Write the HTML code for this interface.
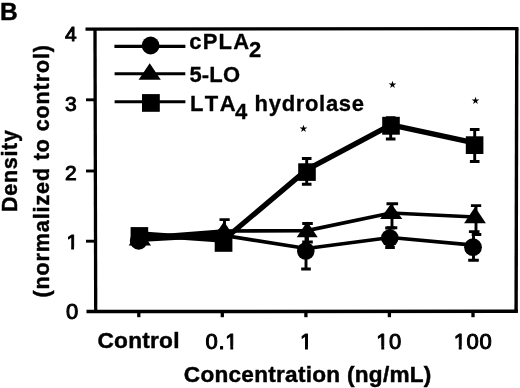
<!DOCTYPE html>
<html>
<head>
<meta charset="utf-8">
<title>Figure B</title>
<style>
html,body{margin:0;padding:0;background:#fff;}
body{width:520px;height:388px;overflow:hidden;}
svg{display:block;filter:blur(0.4px);}
text{font-family:"Liberation Sans",sans-serif;fill:#000;}
.b{font-weight:bold;stroke:#000;stroke-width:0.45px;stroke-linejoin:round;}
.m{font-weight:bold;stroke:#000;stroke-width:0.3px;stroke-linejoin:round;}
.r{font-weight:normal;stroke:#000;stroke-width:1px;stroke-linejoin:round;}
</style>
</head>
<body>
<svg width="520" height="388" viewBox="0 0 520 388">
<rect x="0" y="0" width="520" height="388" fill="#fff"/>
<!-- frame -->
<g stroke="#000" fill="none" stroke-linecap="butt">
<line x1="85.5" y1="29.05" x2="518.4" y2="28.6" stroke-width="3.2"/>
<line x1="86.5" y1="311.55" x2="517.9" y2="311.25" stroke-width="3.4"/>
<line x1="95" y1="29" x2="95.7" y2="311.5" stroke-width="3.3"/>
<line x1="516.8" y1="28.6" x2="516.1" y2="311.3" stroke-width="3.4"/>
<!-- y ticks -->
<line x1="86" y1="99.8" x2="95" y2="99.8" stroke-width="2.9"/>
<line x1="86" y1="171" x2="95" y2="171" stroke-width="2.9"/>
<line x1="86" y1="241.2" x2="95" y2="241.2" stroke-width="2.9"/>
<!-- x ticks -->
<line x1="138.8" y1="311" x2="138.8" y2="317.2" stroke-width="3.3"/>
<line x1="222.3" y1="311" x2="222.3" y2="317.2" stroke-width="3.3"/>
<line x1="305.9" y1="311" x2="305.9" y2="317.2" stroke-width="3.3"/>
<line x1="389.4" y1="311" x2="389.4" y2="317.2" stroke-width="3.3"/>
<line x1="473" y1="311" x2="473" y2="317.2" stroke-width="3.3"/>
</g>

<!-- series lines -->
<g stroke="#000" fill="none" stroke-linejoin="round" stroke-linecap="round">
<polyline points="139.4,240.2 223.5,235.3 306.5,248.5 390.5,237.5 473.5,245.2" stroke-width="3.7"/>
<polyline points="139.4,237.5 223.5,231 306.9,230.6 391,213 475,217" stroke-width="3.7"/>
<polyline points="139.4,234 223.5,240 306.9,169.6 390.9,124.8 474.5,142.8" stroke-width="5.3"/>
</g>

<polygon points="139.4,234 162.2,235.8 223.5,231.2 223.5,240.6 191.5,238.1 139.4,240.2" fill="#000" stroke="#000" stroke-width="1"/>

<!-- error bars -->
<g stroke="#000" fill="none" stroke-width="2.9">
<!-- circle series -->
<path d="M306,233 V269 M301.2,269 H310.8"/>
<path d="M390,228 V247.5 M385.2,247.5 H394.8 M385.2,228 H394.8"/>
<path d="M473.5,234 V260.3 M468.2,260.3 H478.8 M471.7,234.5 H481.3"/>
<!-- triangle series -->
<path d="M224.5,219.6 V240 M219.5,219.6 H229.7"/>
<path d="M307.5,223.5 V242 M302.2,223.5 H312.8 M302.2,242 H312.8"/>
<path d="M392,203.8 V227.8 M386.5,203.8 H398.1 M386.7,227.8 H397.3"/>
<path d="M476,205.6 V231.6 M470.9,205.6 H481.2 M468.9,231.6 H479.5"/>
<!-- square series -->
<path d="M306.7,158.5 V184.3 M301.9,158.5 H311.5 M301.9,184.3 H311.5"/>
<path d="M390.7,117.5 V139 M385.9,117.8 H395.5 M385.9,139 H395.5"/>
<path d="M474.7,129.5 V161.5 M469.9,129.5 H479.5 M469.9,161.5 H479.5"/>
</g>

<!-- markers -->
<g fill="#000" stroke="none">
<!-- circles -->
<circle cx="138.7" cy="240.8" r="8.9"/>
<circle cx="223.5" cy="236.5" r="8.9"/>
<circle cx="305.8" cy="251" r="8.8"/>
<circle cx="389.8" cy="238" r="8.8"/>
<circle cx="473" cy="247.2" r="8.9"/>
<!-- triangles -->
<polygon points="139.8,229 128.7,245.6 151,245.6"/>
<polygon points="224,221.5 213,238 235,238"/>
<polygon points="307.2,221.5 296.7,237.3 317.7,237.3"/>
<polygon points="391.2,203.5 380.1,218.9 402.3,218.9"/>
<polygon points="475,207 464.1,223.3 485.9,223.3"/>
<!-- squares -->
<rect x="130.6" y="227.1" width="17.6" height="17.6"/>
<rect x="214.7" y="234" width="17.7" height="17.8"/>
<rect x="298.2" y="163.3" width="17.6" height="17.6"/>
<rect x="382.2" y="116.8" width="17.6" height="17.9"/>
<rect x="465.8" y="136.3" width="17.6" height="17.7"/>
</g>

<!-- legend -->
<g stroke="#000" stroke-width="3.1" fill="none">
<line x1="114.4" y1="46.4" x2="185.4" y2="46.4"/>
<line x1="114.6" y1="73.8" x2="185.3" y2="73.8"/>
<line x1="114.6" y1="101.8" x2="185.4" y2="101.8"/>
</g>
<g fill="#000" stroke="none">
<circle cx="150.6" cy="45.5" r="8.9"/>
<polygon points="149.7,63.3 138.6,79.7 160.8,79.7"/>
<rect x="142" y="94.1" width="17.8" height="17.7"/>
</g>
<text class="m" x="189.2" y="49.1" font-size="22" textLength="60" lengthAdjust="spacing">cPLA</text>
<text class="m" x="249" y="57" font-size="22">2</text>
<text class="m" x="189.5" y="82.4" font-size="22" textLength="50.5" lengthAdjust="spacing">5-LO</text>
<text class="m" x="189.9" y="110.5" font-size="22" textLength="45.7" lengthAdjust="spacing">LTA</text>
<text class="m" x="235" y="118.9" font-size="22">4</text>
<text class="m" x="254.6" y="111" font-size="22" textLength="109.4" lengthAdjust="spacing">hydrolase</text>

<!-- stars -->
<text x="303.8" y="132.3" font-size="9.5" text-anchor="middle">★</text>
<text x="392.2" y="87.8" font-size="9.5" text-anchor="middle">★</text>
<text x="475.2" y="104.4" font-size="9.5" text-anchor="middle">★</text>

<!-- panel label -->
<text class="b" x="0" y="20" font-size="24.5">B</text>

<!-- y tick labels -->
<text class="r" x="65" y="41.2" font-size="21">4</text>
<text class="r" x="65" y="111.4" font-size="21">3</text>
<text class="r" x="65" y="180.4" font-size="21">2</text>
<text class="r" x="66.4" y="249.4" font-size="21">1</text>
<text class="r" x="66.1" y="319.1" font-size="22">0</text>

<!-- x tick labels -->
<text class="b" x="97.5" y="348" font-size="22.7" textLength="82" lengthAdjust="spacing">Control</text>
<text class="r" x="205.5" y="348.5" font-size="22" letter-spacing="0.7">0.1</text>
<text class="r" x="299.95" y="348.5" font-size="22">1</text>
<text class="r" x="376.25" y="348.5" font-size="22" letter-spacing="0.5">10</text>
<text class="r" x="453.7" y="348.5" font-size="22" letter-spacing="0.65">100</text>

<!-- trim serifs of digit one to match the sans face in the figure -->
<g fill="#fff" stroke="none">
<rect x="66.80" y="246.90" width="4.38" height="4.3"/><rect x="74.04" y="246.90" width="4.3" height="4.3"/>
<rect x="225.65" y="345.95" width="4.63" height="4.3"/><rect x="233.22" y="345.95" width="4.5" height="4.3"/>
<rect x="300.35" y="345.95" width="4.63" height="4.3"/><rect x="307.93" y="345.95" width="4.5" height="4.3"/>
<rect x="376.65" y="345.95" width="4.63" height="4.3"/><rect x="384.23" y="345.95" width="4.5" height="4.3"/>
<rect x="454.10" y="345.95" width="4.63" height="4.3"/><rect x="461.68" y="345.95" width="4.5" height="4.3"/>
</g>

<!-- axis titles -->
<text class="b" x="183.8" y="381.5" font-size="22.6" textLength="247.6" lengthAdjust="spacing">Concentration (ng/mL)</text>
<text class="b" transform="translate(16.5,211.9) rotate(-90)" font-size="21.5" textLength="81.8" lengthAdjust="spacing">Density</text>
<text class="b" transform="translate(48.7,297.5) rotate(-90)" font-size="21.5" textLength="252.5" lengthAdjust="spacing">(normalized to control)</text>
</svg>
</body>
</html>
